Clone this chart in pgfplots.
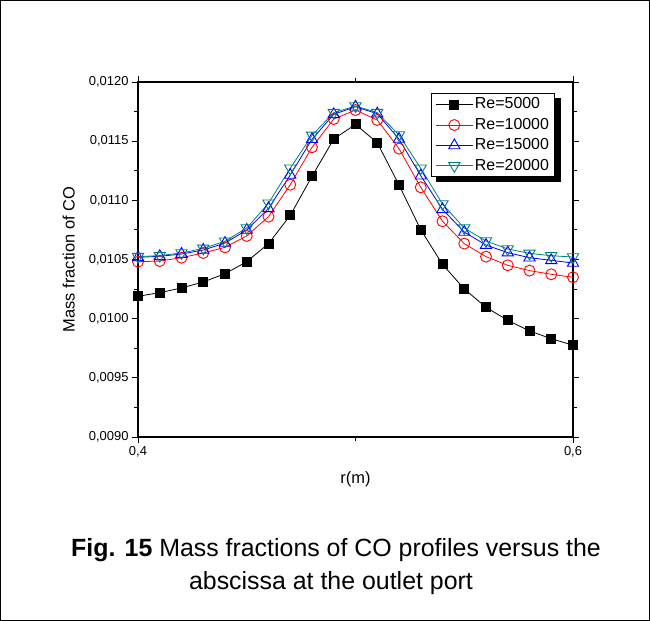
\documentclass[border=0pt]{standalone}
\usepackage{fontspec}
\setmainfont{Liberation Sans}
\usepackage{pgfplots}
\pgfplotsset{compat=1.18}
\definecolor{tealc}{RGB}{0,128,128}
\begin{document}
\begin{tikzpicture}
\useasboundingbox (0,0) rectangle (650bp,621bp);
\draw[line width=1.3bp] (0.65bp,0.65bp) rectangle (649.35bp,620.35bp);
\begin{axis}[
  at={(138bp,184bp)}, anchor=south west,
  scale only axis, width=435bp, height=355bp,
  xmin=0.4, xmax=0.6, ymin=0.009, ymax=0.012,
  xtick={0.4,0.6}, minor xtick={0.5},
  ytick={0.009,0.0095,...,0.01201}, minor ytick={0.00925,0.00975,0.01025,0.01075,0.01125,0.01175},
  xticklabels={{0,4},{0,6}},
  tick align=outside,
  major tick length=6bp, minor tick length=4bp,
  every tick/.style={black, line width=0.9bp},
  axis line style={line width=1.2bp},
  scaled y ticks=false,
  yticklabel style={/pgf/number format/.cd, fixed, fixed zerofill, precision=4, use comma, assume math mode=true},
  ticklabel style={font=\fontsize{13}{15}\selectfont},
  xlabel={r(m)}, ylabel={Mass fraction of CO},
  label style={font=\fontsize{16.5}{18}\selectfont},
  xlabel style={at={(axis description cs:0.5,-0.118)}, anchor=center},
  ylabel style={at={(axis description cs:-0.159,0.5)}, anchor=center},
  legend style={at={(rel axis cs:0.6736,0.9687)}, anchor=north west, draw=black, line width=1bp,
    font=\fontsize{16}{18}\selectfont, fill=white, name=leg,
    nodes={inner sep=1.8bp, text height=11.5bp, text depth=3bp},
    inner xsep=4bp, inner ysep=2bp, row sep=2.3bp},
  legend cell align=left,
  legend image code/.code={\draw[mark repeat=2,mark phase=2] plot coordinates {(0cm,0cm)(0.65cm,0cm)(1.3cm,0cm)};},
]
\addplot[black, line width=0.8bp, mark=square*, mark size=4.5bp, mark options={solid}] coordinates {
(0.40,0.010189)(0.41,0.010220)(0.42,0.010259)(0.43,0.010310)(0.44,0.010380)(0.45,0.010481)(0.46,0.010634)(0.47,0.010873)(0.48,0.011203)(0.49,0.011518)(0.50,0.011642)(0.51,0.011487)(0.52,0.011130)(0.53,0.010752)(0.54,0.010459)(0.55,0.010251)(0.56,0.010096)(0.57,0.009986)(0.58,0.009896)(0.59,0.009831)(0.60,0.009775)};
\addlegendentry{Re=5000}
\addplot[red, line width=0.8bp, mark=o, mark size=5.5bp, mark options={solid, line width=0.9bp}] coordinates {
(0.40,0.010481)(0.41,0.010487)(0.42,0.010515)(0.43,0.010555)(0.44,0.010603)(0.45,0.010699)(0.46,0.010862)(0.47,0.011132)(0.48,0.011448)(0.49,0.011687)(0.50,0.011763)(0.51,0.011679)(0.52,0.011437)(0.53,0.011110)(0.54,0.010823)(0.55,0.010634)(0.56,0.010524)(0.57,0.010451)(0.58,0.010406)(0.59,0.010375)(0.60,0.010350)};
\addlegendentry{Re=10000}
\addplot[blue, line width=0.8bp, mark=triangle, mark size=6.5bp, mark options={solid, line width=0.9bp}] coordinates {
(0.40,0.010518)(0.41,0.010527)(0.42,0.010546)(0.43,0.010580)(0.44,0.010639)(0.45,0.010749)(0.46,0.010932)(0.47,0.011214)(0.48,0.011516)(0.49,0.011727)(0.50,0.011791)(0.51,0.011732)(0.52,0.011518)(0.53,0.011208)(0.54,0.010924)(0.55,0.010732)(0.56,0.010622)(0.57,0.010558)(0.58,0.010515)(0.59,0.010493)(0.60,0.010470)};
\addlegendentry{Re=15000}
\addplot[tealc, line width=0.8bp, mark=triangle, mark size=6.5bp, mark options={solid, line width=0.9bp, rotate=180}] coordinates {
(0.40,0.010524)(0.41,0.010533)(0.42,0.010555)(0.43,0.010594)(0.44,0.010654)(0.45,0.010766)(0.46,0.010975)(0.47,0.011271)(0.48,0.011549)(0.49,0.011741)(0.50,0.011797)(0.51,0.011741)(0.52,0.011552)(0.53,0.011271)(0.54,0.010969)(0.55,0.010766)(0.56,0.010656)(0.57,0.010589)(0.58,0.010552)(0.59,0.010532)(0.60,0.010521)};
\addlegendentry{Re=20000}
\end{axis}
\fill[black] ([xshift=5bp,yshift=0.5bp]leg.south west) rectangle ([xshift=5.5bp,yshift=-5bp]leg.south east);
\fill[black] ([xshift=-0.5bp,yshift=-5bp]leg.north east) rectangle ([xshift=5.5bp,yshift=-5bp]leg.south east);
\node[anchor=base, font=\fontsize{25}{30}\selectfont, inner sep=0pt] at (336bp,64bp) {\textbf{Fig. 15} Mass fractions of CO profiles versus the};
\node[anchor=base, font=\fontsize{25}{30}\selectfont, inner sep=0pt] at (331bp,32bp) {abscissa at the outlet port};
\end{tikzpicture}
\end{document}
